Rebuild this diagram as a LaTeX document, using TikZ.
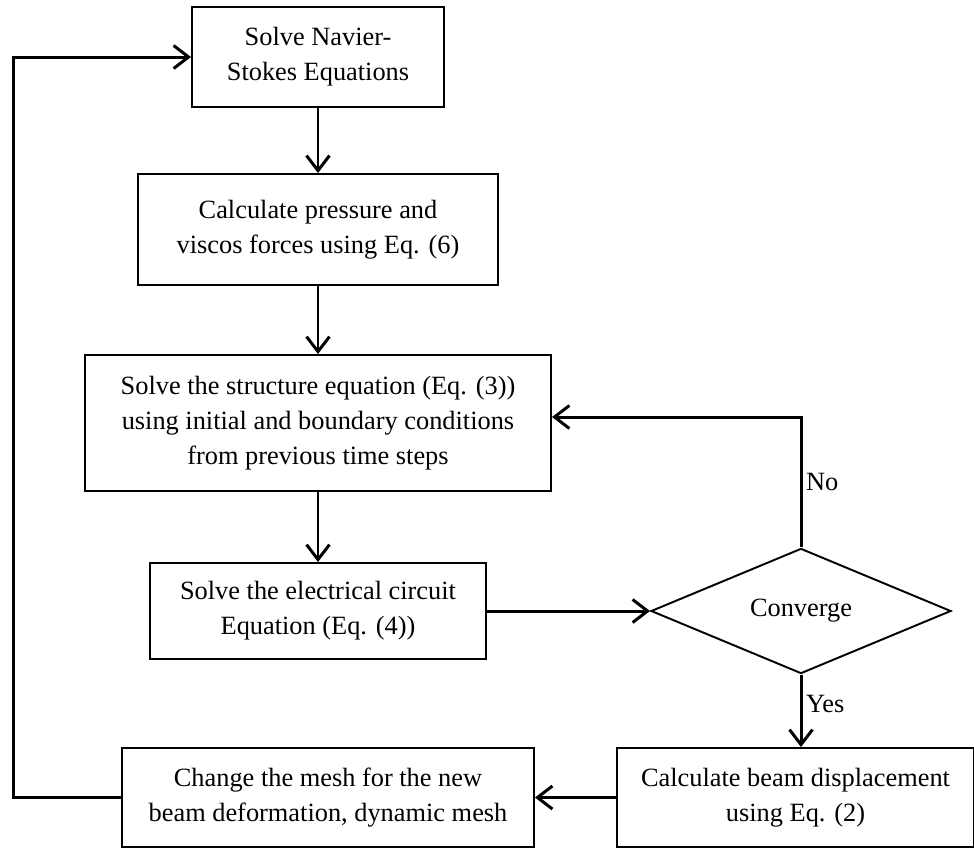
\documentclass[tikz,border=0pt]{standalone}
\usepackage{fontspec}
\setmainfont{Liberation Serif}
\usetikzlibrary{shapes.geometric,arrows.meta}

\begin{document}
\begin{tikzpicture}[
                    node distance=3.75cm,
                    box/.style={
                        rectangle,
                        draw,
                        line width=1.1pt,
                        align=center,
                        inner sep=2pt,
                        font=\fontsize{15}{20}\selectfont
                    },
                    decision/.style={
                        diamond,
                        draw,
                        line width=1.1pt,
                        inner sep=0pt,
                        minimum width=6cm,
                        minimum height=2.5cm,
                        font=\fontsize{15}{20}\selectfont
                    },
                    arr/.style={
                        line width=1.7pt,
                        -{Straight Barb[length=0.3cm,width=0.46cm]}
                    },
                    lbl/.style={
                        inner sep=2pt,
                        font=\fontsize{15}{20}\selectfont
                    }
                ]
                    \useasboundingbox (0,0) rectangle (19.48,-16.96);

                    \node[box, minimum width=5.04cm, minimum height=2cm] (ns) at (6.36,-1.14) {Solve Navier-\\Stokes Equations};
                    \node[box, minimum width=7.2cm, minimum height=2.22cm] (pv) [below of=ns, node distance=3.45cm] {Calculate pressure and\\viscos forces using Eq. (6)};
                    \node[box, minimum width=9.32cm, minimum height=2.72cm] (st) [below of=pv, node distance=3.87cm] {Solve the structure equation (Eq. (3))\\using initial and boundary conditions\\from previous time steps};
                    \node[box, minimum width=6.72cm, minimum height=1.92cm] (ec) [below of=st, node distance=3.76cm] {Solve the electrical circuit\\Equation (Eq. (4))};
                    \node[decision] (cv) [right of=ec, node distance=9.66cm] {Converge};
                    \node[box, minimum width=7.14cm, minimum height=1.98cm, xshift=-0.11cm] (bd) [below of=cv, node distance=3.73cm] {Calculate beam displacement\\using Eq. (2)};
                    \node[box, minimum width=8.24cm, minimum height=1.98cm, xshift=0.2cm] (cm) [below of=ec, node distance=3.73cm] {Change the mesh for the new\\beam deformation, dynamic mesh};

                    % Edges
                    \draw[arr] (ns) -- (pv);
                    \draw[arr] (pv) -- (st);
                    \draw[arr] (st) -- (ec);
                    \draw[arr] (ec.east) -- (cv.west);
                    \draw[arr] (cv.north) |- ([yshift=0.12cm]st.east) node[lbl, pos=0.25, anchor=west] {No};
                    \draw[arr] (cv.south) -- (cv.south |- bd.north) node[lbl, pos=0.4, anchor=west] {Yes};
                    \draw[arr] (bd.west) -- (cm.east);
                    \draw[arr] (cm.west) -- ++(-2.16,0) |- (ns.west);
                \end{tikzpicture}
\end{document}
